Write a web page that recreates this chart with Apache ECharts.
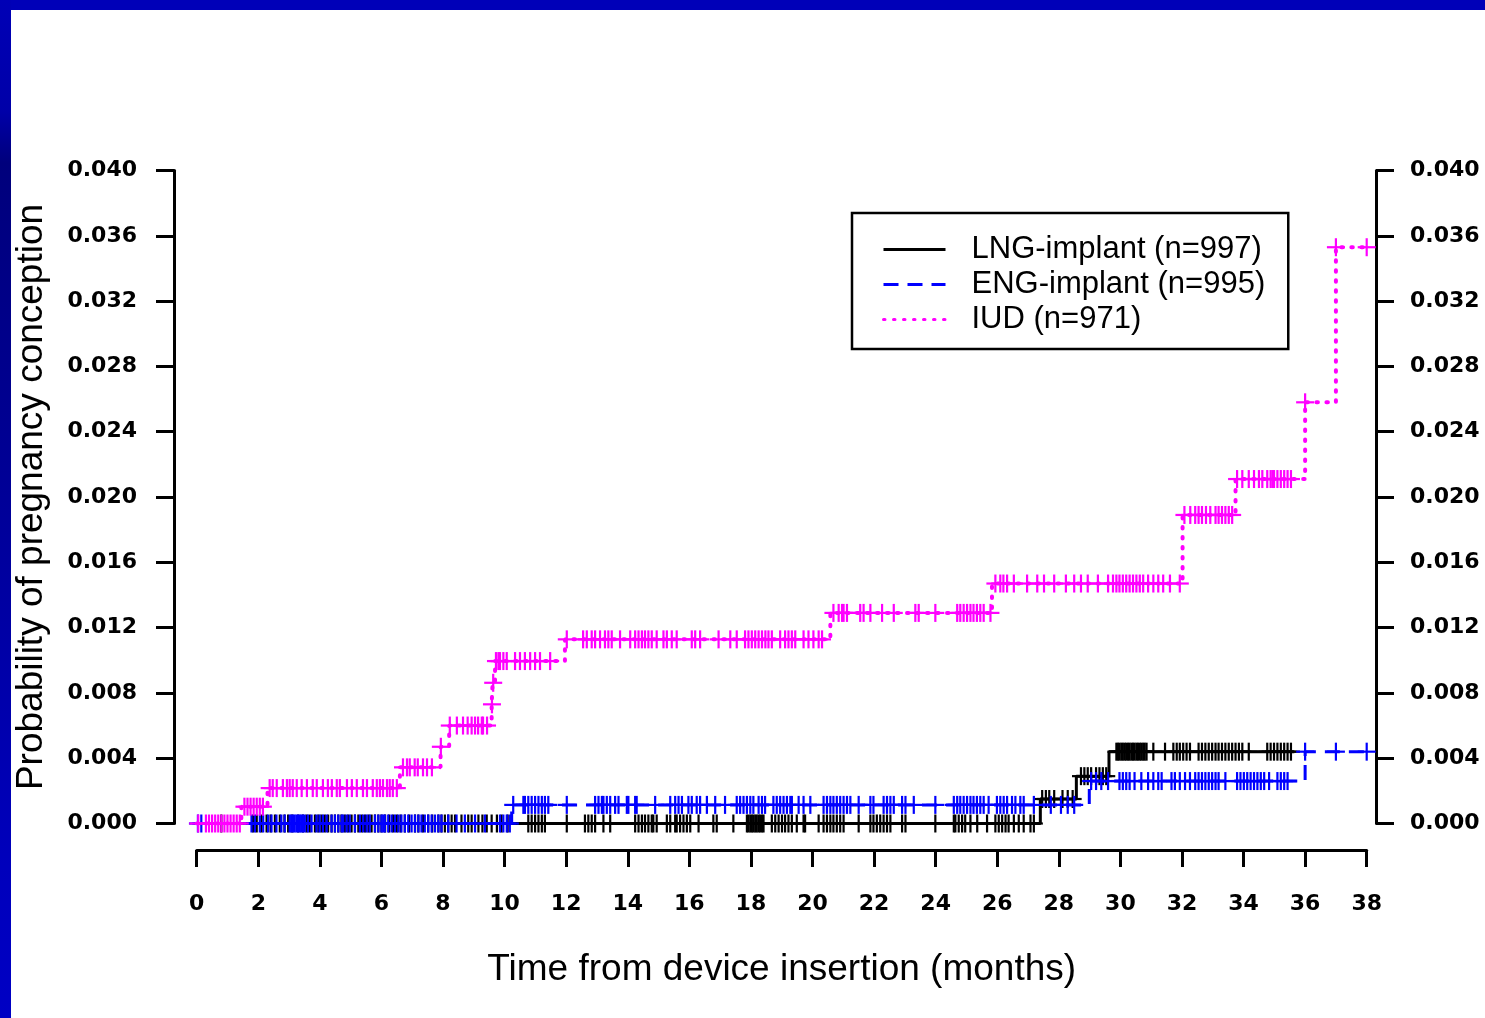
<!DOCTYPE html>
<html>
<head>
<meta charset="utf-8">
<title>Probability of pregnancy conception by device</title>
<script src="https://cdn.jsdelivr.net/npm/echarts@6/dist/echarts.min.js"></script>
<style>
  html, body { margin: 0; padding: 0; background: #ffffff; }
  #chart { width: 1485px; height: 1018px; }
</style>
</head>
<body>
<div id="chart"></div>
<script>
// ---- Group labels ----
const lngName = 'LNG-implant (n=997)';
const engName = 'ENG-implant (n=995)';
const iudName = 'IUD (n=971)';

// ---- Axis settings (months / cumulative probability) ----
const monthMin = 0, monthMax = 38, monthStep = 2;
const probMin = 0, probMax = 0.04, probStep = 0.004;

// ---- Kaplan-Meier steps: time of each step (months) and cumulative probability from then on ----
const lngStepMonths = [0, 27.4, 28.57, 29.63, 35.65];
const lngStepProb   = [0, 0.0015, 0.0029, 0.0044, 0.0044];

const engStepMonths = [0, 10.23, 28.99, 36.0, 38.0];
const engStepProb   = [0, 0.00114, 0.0026, 0.0044, 0.0044];

const iudStepMonths = [0, 1.45, 2.3, 6.6, 7.92, 8.2, 9.58, 9.61, 9.69, 11.96, 20.58, 25.83, 32.02, 33.74, 36.0, 37.0, 38.0];
const iudStepProb   = [0, 0.00103, 0.00217, 0.00344, 0.0047, 0.0060, 0.0073, 0.00862, 0.00995, 0.01128, 0.0129, 0.0147, 0.0189, 0.0211, 0.0258, 0.0353, 0.0353];

// ---- Censoring times (months) ----
const lngCensor = [
  0.8, 1.83, 1.95, 2.1, 2.27, 2.4, 2.54, 2.7, 2.85, 2.97, 3.1, 3.3, 3.45, 3.57, 3.67, 3.84, 3.95, 4.05,
  4.16, 4.27, 4.38, 4.49, 4.6, 4.7, 4.81, 4.92, 5.03, 5.14, 5.25, 5.36, 5.47, 5.58, 5.68, 5.79, 5.9, 6.0,
  6.12, 6.25, 6.38, 6.5, 6.62, 6.76, 6.9, 7.09, 7.2, 7.35, 7.52, 7.65, 7.85, 7.95, 8.06, 8.17, 8.28, 8.39,
  8.6, 8.82, 8.93, 9.15, 9.28, 9.42, 9.58, 9.75, 9.9, 10.1, 10.77, 10.88, 10.99, 11.1, 11.21, 11.31, 12.02,
  12.61, 12.72, 12.83, 12.94, 13.21, 13.43, 14.24, 14.35, 14.46, 14.56, 14.67, 14.78, 14.83, 14.94, 15.27,
  15.38, 15.54, 15.59, 15.7, 15.81, 15.92, 16.03, 16.3, 16.78, 16.89, 17.43, 17.87, 17.92, 17.98, 18.03,
  18.08, 18.14, 18.19, 18.25, 18.3, 18.36, 18.41, 18.68, 18.79, 18.9, 19.01, 19.11, 19.22, 19.33, 19.49,
  19.71, 19.76, 20.2, 20.36, 20.47, 20.58, 20.68, 20.79, 20.9, 21.01, 21.5, 21.88, 21.98, 22.09, 22.2,
  22.31, 22.42, 22.53, 22.91, 23.02, 23.99, 24.59, 24.64, 24.75, 24.86, 24.96, 25.13, 25.35, 25.67, 25.94,
  26.05, 26.16, 26.27, 26.37, 26.54, 26.7, 26.86, 27.08, 27.19,
  27.46, 27.58, 27.69, 27.85, 28.12, 28.29, 28.45,
  28.72, 28.83, 28.94, 29.05, 29.21, 29.32, 29.43, 29.54,
  29.87, 29.92, 29.97, 30.03, 30.08, 30.14, 30.19, 30.25, 30.3, 30.36, 30.41, 30.46, 30.52, 30.57, 30.63,
  30.68, 30.74, 30.79, 30.85, 31.07, 31.45, 31.72, 31.83, 31.93, 32.04, 32.15, 32.26, 32.54, 32.65, 32.76,
  32.87, 32.98, 33.09, 33.19, 33.3, 33.41, 33.52, 33.63, 33.74, 33.85, 33.96, 34.17, 34.77, 34.88, 34.99,
  35.1, 35.21, 35.32, 35.43, 35.54
];

const engCensor = [
  0.04, 0.15, 1.78, 1.89, 2.05, 2.16, 2.32, 2.43, 2.59, 2.75, 2.86, 3.02, 3.07, 3.13, 3.18, 3.24, 3.29,
  3.35, 3.4, 3.45, 3.51, 3.61, 3.73, 3.89, 3.99, 4.1, 4.22, 4.38, 4.49, 4.6, 4.71, 4.76, 4.87, 4.97, 5.14,
  5.3, 5.41, 5.52, 5.62, 5.79, 5.9, 6.0, 6.06, 6.11, 6.22, 6.33, 6.44, 6.55, 6.65, 6.76, 6.87, 6.98, 7.09,
  7.2, 7.3, 7.41, 7.52, 7.63, 7.74, 7.85, 7.95, 8.17, 8.44, 8.71, 9.04, 9.36, 9.85, 9.96, 10.07, 10.17,
  10.28, 10.61, 10.66, 10.77, 10.88, 10.99, 11.1, 11.21, 11.31, 11.42, 12.02, 12.94, 13.05, 13.16, 13.21,
  13.32, 13.43, 13.59, 13.7, 13.97, 14.02, 14.24, 14.29, 14.89, 15.38, 15.54, 15.65, 15.76, 15.97, 16.08,
  16.24, 16.35, 16.57, 16.84, 17.16, 17.54, 17.65, 17.76, 17.87, 17.98, 18.08, 18.25, 18.36, 18.46, 18.73,
  18.84, 18.95, 19.06, 19.17, 19.28, 19.33, 19.55, 19.71, 19.93, 20.36, 20.47, 20.58, 20.68, 20.79, 20.9,
  21.01, 21.12, 21.23, 21.5, 21.88, 21.98, 22.31, 22.42, 22.53, 22.64, 22.91, 23.02, 23.29, 23.99, 24.59,
  24.7, 24.8, 24.91, 25.02, 25.13, 25.23, 25.34, 25.45, 25.56, 25.72, 25.99, 26.1, 26.21, 26.32, 26.48,
  26.59, 26.75, 26.86, 27.19, 27.74, 28.07, 28.29, 28.5,
  29.05, 29.21, 29.38, 29.6, 29.97, 30.08, 30.19, 30.3, 30.46, 30.68, 30.9, 31.07, 31.23, 31.34, 31.66,
  31.77, 31.93, 32.1, 32.26, 32.43, 32.54, 32.65, 32.76, 32.87, 32.98, 33.09, 33.19, 33.41, 33.79, 33.9,
  34.01, 34.12, 34.23, 34.34, 34.45, 34.56, 34.67, 34.83, 35.1, 35.21, 35.32, 35.43,
  36.0, 37.0, 38.0
];

const iudCensor = [
  0.05, 0.3, 0.4, 0.5, 0.6, 0.7, 0.8, 0.9, 1.0, 1.1, 1.2, 1.3, 1.4,
  1.55, 1.65, 1.75, 1.85, 1.95, 2.05, 2.15,
  2.37, 2.47, 2.6, 2.8, 2.93, 3.02, 3.12, 3.25, 3.41, 3.58, 3.77, 3.9, 4.1, 4.26, 4.39, 4.55, 4.65, 4.88,
  5.04, 5.2, 5.4, 5.53, 5.72, 5.85, 5.95, 6.05, 6.18, 6.27, 6.37, 6.5,
  6.7, 6.83, 6.92, 7.08, 7.18, 7.35, 7.48, 7.64,
  7.93,
  8.22, 8.45, 8.65, 8.8, 8.93, 9.04, 9.14, 9.26, 9.3, 9.43,
  9.59, 9.63,
  9.72, 9.8, 9.85, 9.96, 10.07, 10.34, 10.5, 10.66, 10.83, 10.99, 11.15, 11.48,
  12.02, 12.55, 12.67, 12.83, 12.94, 13.1, 13.26, 13.37, 13.48, 13.75, 14.08, 14.24, 14.35, 14.46, 14.56,
  14.67, 14.78, 14.94, 15.16, 15.27, 15.43, 15.59, 16.08, 16.19, 16.35, 16.95, 17.33, 17.54, 17.81, 17.92,
  18.03, 18.14, 18.25, 18.36, 18.47, 18.57, 18.68, 18.95, 19.11, 19.22, 19.33, 19.44, 19.71, 19.87, 20.03,
  20.2, 20.31,
  20.68, 20.85, 20.96, 21.01, 21.12, 21.55, 21.66, 21.88, 22.26, 22.64, 23.34, 23.45, 23.99, 24.7, 24.8,
  24.91, 25.02, 25.13, 25.23, 25.34, 25.45, 25.56, 25.78,
  25.94, 26.1, 26.2, 26.32, 26.54, 26.97, 27.3, 27.52, 27.85, 28.23, 28.5, 28.72, 28.94, 29.27, 29.6, 29.76,
  29.87, 29.97, 30.08, 30.19, 30.3, 30.41, 30.52, 30.63, 30.74, 30.9, 31.07, 31.23, 31.39, 31.61, 31.93,
  32.08, 32.27, 32.43, 32.54, 32.65, 32.78, 32.92, 33.09, 33.19, 33.3, 33.41, 33.52, 33.63,
  33.79, 33.96, 34.17, 34.34, 34.5, 34.61, 34.77, 34.88, 34.94, 34.99, 35.1, 35.21, 35.32, 35.43, 35.54,
  36.0, 37.0, 38.0
];

// ---- Helpers ----
function stepPoints(times, probs) {
  return times.map(function (t, i) { return [t, probs[i]]; });
}
// cumulative probability of the step curve at time t
function probAt(times, probs, t) {
  let p = probs[0];
  for (let i = 0; i < times.length; i++) {
    if (t >= times[i] - 1e-9) p = probs[i];
  }
  return p;
}
function censorPoints(censor, times, probs) {
  return censor.map(function (t) { return [t, probAt(times, probs, t)]; });
}
// "+" mark drawn at a censored observation
function plusMark(color) {
  return function (params, api) {
    const c = api.coord([api.value(0), api.value(1)]);
    const h = 9;
    return {
      type: 'group',
      children: [
        { type: 'line', shape: { x1: c[0], y1: c[1] - h, x2: c[0], y2: c[1] + h },
          style: { stroke: color, lineWidth: 2.2 } },
        { type: 'line', shape: { x1: c[0] - h, y1: c[1], x2: c[0] + h, y2: c[1] },
          style: { stroke: color, lineWidth: 2.2 } }
      ]
    };
  };
}

const tickFont = { fontFamily: 'DejaVu Sans', fontWeight: 'bold', fontSize: 22, color: '#000' };
const titleFont = { fontFamily: 'Liberation Sans', fontWeight: 'normal', fontSize: 37, color: '#000' };
const blackLine = { color: '#000', width: 3 };

function probAxis(position, margin, withName) {
  const ax = {
    type: 'value', gridIndex: 0, position: position,
    min: probMin, max: probMax, interval: probStep,
    axisLine: { show: true, onZero: false, lineStyle: blackLine },
    axisTick: { show: true, inside: false, length: 18, lineStyle: blackLine },
    axisLabel: Object.assign({ margin: margin, formatter: function (v) { return v.toFixed(3); } }, tickFont),
    splitLine: { show: false }
  };
  if (withName) {
    ax.name = 'Probability of pregnancy conception';
    ax.nameLocation = 'middle';
    ax.nameGap = 124;
    ax.nameTextStyle = titleFont;
  }
  return ax;
}

const chart = echarts.init(document.getElementById('chart'), null, { renderer: 'canvas' });

chart.setOption({
  backgroundColor: '#ffffff',
  animation: false,
  grid: [
    { left: 174, right: 109, top: 170.5, bottom: 194.5 },
    { left: 196.7, width: 1170, top: 800, height: 50 }
  ],
  xAxis: [
    {
      type: 'value', gridIndex: 0, min: -0.737, max: 38.302,
      axisLine: { show: false, onZero: false }, axisTick: { show: false },
      axisLabel: { show: false }, splitLine: { show: false }
    },
    {
      type: 'value', gridIndex: 1, position: 'bottom',
      min: monthMin, max: monthMax, interval: monthStep,
      axisLine: { show: true, onZero: false, lineStyle: blackLine },
      axisTick: { show: true, inside: false, length: 17, lineStyle: blackLine },
      axisLabel: Object.assign({ margin: 43 }, tickFont),
      splitLine: { show: false },
      name: 'Time from device insertion (months)',
      nameLocation: 'middle', nameGap: 101,
      nameTextStyle: titleFont
    }
  ],
  yAxis: [
    probAxis('left', 37, true),
    probAxis('right', 34, false),
    { type: 'value', gridIndex: 1, min: 0, max: 1, show: false }
  ],
  legend: {
    data: [lngName, engName, iudName],
    orient: 'vertical',
    left: 852, top: 213,
    padding: [21, 23, 14, 30],
    itemWidth: 62, itemHeight: 14, itemGap: 4,
    borderColor: '#000', borderWidth: 2.5,
    selectedMode: false,
    itemStyle: { opacity: 0 },
    lineStyle: { width: 3 },
    textStyle: { fontFamily: 'Liberation Sans', fontSize: 31, color: '#000', padding: [0, 0, 0, 21] }
  },
  series: [
    {
      type: 'line', name: lngName, xAxisIndex: 0, yAxisIndex: 0,
      step: 'end', symbol: 'none', silent: true, z: 2,
      data: stepPoints(lngStepMonths, lngStepProb),
      itemStyle: { color: '#000000' },
      lineStyle: { color: '#000000', width: 3, type: 'solid' }
    },
    {
      type: 'custom', name: 'LNG censored', xAxisIndex: 0, yAxisIndex: 0,
      silent: true, z: 3, clip: false,
      renderItem: plusMark('#000000'),
      data: censorPoints(lngCensor, lngStepMonths, lngStepProb)
    },
    {
      type: 'line', name: engName, xAxisIndex: 0, yAxisIndex: 0,
      step: 'end', symbol: 'none', silent: true, z: 4,
      data: stepPoints(engStepMonths, engStepProb),
      itemStyle: { color: '#0000ff' },
      lineStyle: { color: '#0000ff', width: 3, type: [15, 9] }
    },
    {
      type: 'custom', name: 'ENG censored', xAxisIndex: 0, yAxisIndex: 0,
      silent: true, z: 5, clip: false,
      renderItem: plusMark('#0000ff'),
      data: censorPoints(engCensor, engStepMonths, engStepProb)
    },
    {
      type: 'line', name: iudName, xAxisIndex: 0, yAxisIndex: 0,
      step: 'end', symbol: 'none', silent: true, z: 6,
      data: stepPoints(iudStepMonths, iudStepProb),
      itemStyle: { color: '#ff00ff' },
      lineStyle: { color: '#ff00ff', width: 4, type: [1.5, 8.5], cap: 'round' }
    },
    {
      type: 'custom', name: 'IUD censored', xAxisIndex: 0, yAxisIndex: 0,
      silent: true, z: 7, clip: false,
      renderItem: plusMark('#ff00ff'),
      data: censorPoints(iudCensor, iudStepMonths, iudStepProb)
    }
  ],
  graphic: [
    { type: 'rect', z: 100, shape: { x: 0, y: 0, width: 1485, height: 10 }, style: { fill: '#0000b8' } },
    { type: 'rect', z: 100, shape: { x: 0, y: 0, width: 11, height: 1018 },
      style: { fill: { type: 'linear', x: 0, y: 0, x2: 0, y2: 1, colorStops: [
        { offset: 0, color: '#0000b6' }, { offset: 0.11, color: '#0000a8' },
        { offset: 0.16, color: '#00007c' }, { offset: 0.45, color: '#000094' },
        { offset: 0.85, color: '#0000bc' }, { offset: 1, color: '#0000c4' }
      ] } } }
  ]
});
</script>
</body>
</html>
